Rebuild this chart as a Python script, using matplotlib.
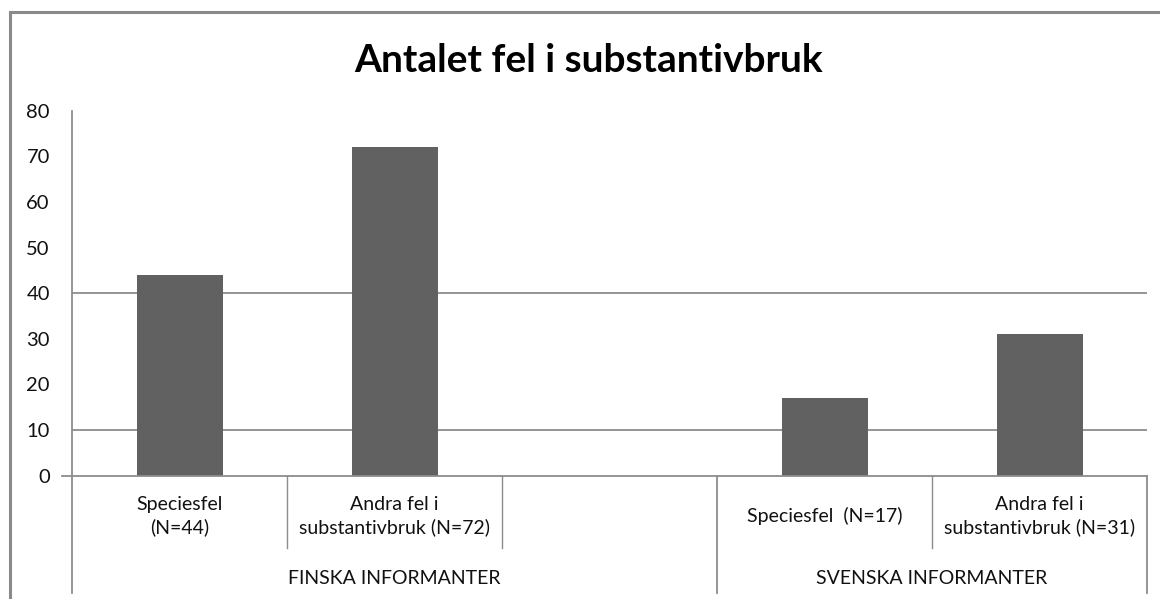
import matplotlib
matplotlib.use("Agg")
import matplotlib.pyplot as plt
from matplotlib.patches import Rectangle
import numpy as np

title = "Antalet fel i substantivbruk"
groups = ["FINSKA INFORMANTER", "SVENSKA INFORMANTER"]
group_sizes = [3, 2]
sub_labels = ["Speciesfel\n(N=44)", "Andra fel i\nsubstantivbruk (N=72)", "",
              "Speciesfel  (N=17)", "Andra fel i\nsubstantivbruk (N=31)"]
values = [44, 72, np.nan, 17, 31]
yticks = [0, 10, 20, 30, 40, 50, 60, 70, 80]
grid_at = [10, 40]

W, H = 1160, 599
fig = plt.figure(figsize=(W / 100, H / 100), dpi=100)
plt.rcParams['font.family'] = ['Lato', 'DejaVu Sans']

def fx(px):
    return px / W

def fy(py):
    return 1 - py / H

# outer chart border
fig.patches.append(Rectangle((fx(9.5), fy(700)), fx(1200), fy(11.5) - fy(700),
                             transform=fig.transFigure, fill=False,
                             edgecolor="#8a8a8a", linewidth=2.2))

left, right, top, bottom = 72, 1147, 110.7, 475.7
ax = fig.add_axes([fx(left), fy(bottom), fx(right - left), fy(top) - fy(bottom)])

gc = "#8c8c8c"
x = np.arange(len(values))
ax.bar(x, values, width=0.4, color="#616161", zorder=3)
ax.set_xlim(-0.5, len(values) - 0.5)
ax.set_ylim(0, 80)
for g in grid_at:
    ax.axhline(g, color=gc, linewidth=1.3, zorder=1)

for s in ["top", "right", "bottom"]:
    ax.spines[s].set_visible(False)
ax.spines["left"].set_color(gc)
ax.spines["left"].set_linewidth(1.3)

ax.set_yticks(yticks)
ax.set_yticklabels([str(t) for t in yticks], fontsize=14.5, color="#111111")
ax.tick_params(axis="y", length=0, pad=16)
ax.set_xticks([])

trans = ax.get_xaxis_transform()
# x axis line extended slightly left
ax.plot([-0.5 - 10 / 215, len(values) - 0.5], [0, 0], transform=trans,
        color=gc, linewidth=1.3, clip_on=False, zorder=4)

axh = bottom - top
def ay(py):
    return (bottom - py) / axh

# sub-category boundary lines and group lines
bounds_group = [-0.5]
c = -0.5
for n in group_sizes:
    c += n
    bounds_group.append(c)
for b in np.arange(-0.5, len(values) - 0.4, 1.0):
    if any(abs(b - g) < 1e-6 for g in bounds_group):
        ax.plot([b, b], [0, ay(593)], transform=trans, color=gc,
                linewidth=1.3, clip_on=False)
    else:
        ax.plot([b, b], [0, ay(548)], transform=trans, color=gc,
                linewidth=1.0, clip_on=False)

for xi, lab in zip(x, sub_labels):
    ax.text(xi, ay(516), lab, transform=trans, ha="center", va="center",
            fontsize=14, linespacing=1.4, color="#111111")

start = -0.5
for g, n in zip(groups, group_sizes):
    ax.text(start + n / 2, ay(578), g, transform=trans, ha="center",
            va="center", fontsize=14, color="#111111")
    start += n

fig.text(fx(589), fy(60), title, ha="center", va="center", fontsize=28,
         fontweight="bold", color="black")

fig.savefig("out.png", dpi=100)
